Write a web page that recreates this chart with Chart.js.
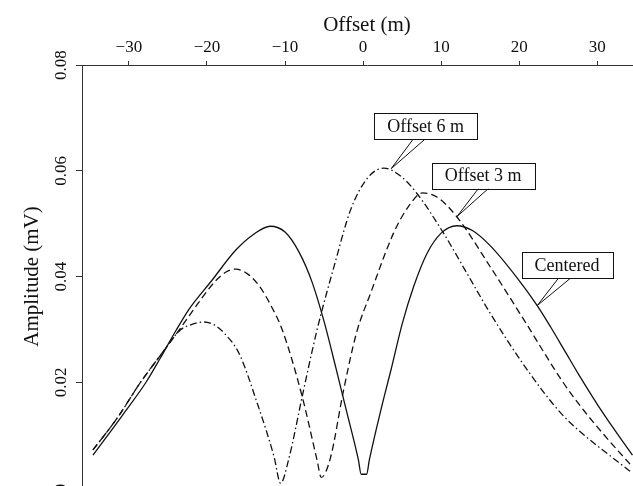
<!DOCTYPE html>
<html>
<head>
<meta charset="utf-8">
<script src="https://cdn.jsdelivr.net/npm/chart.js@4.4.1/dist/chart.umd.min.js"></script>
<style>
html, body { margin: 0; padding: 0; overflow: hidden; background: #fff; width: 633px; height: 486px; }
canvas { display: block; }
</style>
</head>
<body>
<canvas id="ampChart" width="654" height="490"></canvas>
<script>
// tick values and labels
const xTickValues = [-30, -20, -10, 0, 10, 20, 30];
const xTickLabels = ['\u221230', '\u221220', '\u221210', '0', '10', '20', '30'];
const yTickValues = [0, 0.02, 0.04, 0.06, 0.08];
const yTickLabels = ['0', '0.02', '0.04', '0.06', '0.08'];

// Centered (solid)
const centeredX = [-34.6, -30.8, -27.8, -26, -24, -22.3, -19.4, -16.3, -14, -11.9, -10, -8.2, -6.5, -5, -3.5, -2.2, -0.6, -0.25, 0.45, 0.8, 2.4, 3.6, 5, 6.5, 8.2, 10, 12, 14, 16.3, 19.7, 22.3, 24, 26, 27.6, 30.8, 34.5];
const centeredY = [0.0062, 0.0138, 0.0200, 0.0245, 0.0297, 0.0338, 0.0392, 0.0450, 0.0480, 0.0495, 0.0484, 0.0446, 0.0388, 0.0315, 0.0228, 0.0150, 0.0053, 0.0026, 0.0026, 0.0053, 0.0155, 0.0225, 0.0310, 0.0382, 0.0444, 0.0482, 0.0496, 0.0487, 0.0458, 0.0398, 0.0345, 0.0305, 0.0255, 0.0215, 0.0140, 0.0062];

// Offset 3 m (dashed)
const offset3X = [-34.6, -31.5, -28.5, -26, -23.4, -21, -19, -17.5, -16.3, -14.8, -13.3, -11.8, -10.35, -7.8, -5.9, -5.36, -4.2, -2.5, -0.85, 1, 3.9, 5.8, 7.6, 9.5, 12, 16.3, 20.6, 25.6, 28.2, 31.3, 34.5];
const offset3Y = [0.0072, 0.0132, 0.0200, 0.0250, 0.0302, 0.0352, 0.0390, 0.0409, 0.0414, 0.0405, 0.0382, 0.0345, 0.0299, 0.0173, 0.0053, 0.0020, 0.0056, 0.0185, 0.0293, 0.0370, 0.0482, 0.0532, 0.0558, 0.0550, 0.0513, 0.0418, 0.0318, 0.0200, 0.0148, 0.0093, 0.0040];

// Offset 6 m (dash-dot)
const offset6X = [-34.6, -31.5, -28.5, -26, -23.4, -22, -20.4, -19, -17.8, -15.9, -13.55, -11.4, -10.57, -9.5, -7.8, -5.9, -3.7, -1.6, 0.5, 2.65, 4.8, 6.9, 10.3, 13.3, 16.3, 20.8, 25.3, 28, 30.5, 32.5, 34.5];
const offset6Y = [0.0072, 0.0132, 0.0200, 0.0250, 0.0299, 0.0309, 0.0314, 0.0308, 0.0293, 0.0255, 0.0160, 0.0059, 0.0009, 0.0056, 0.0173, 0.0299, 0.0420, 0.0526, 0.0585, 0.0605, 0.0590, 0.0557, 0.0482, 0.0406, 0.0330, 0.0228, 0.0142, 0.0104, 0.0074, 0.0051, 0.0028];

// callout boxes (data units): text, box centre, leader tip, leader base x's
const callouts = [
    {text: 'Offset 6 m', box: [8.0, 0.0685], tip: [3.6, 0.0604], base: [6.45, 7.98]},
    {text: 'Offset 3 m', box: [15.37, 0.0591], tip: [12.0, 0.0513], base: [14.77, 16.05]},
    {text: 'Centered', box: [26.12, 0.0421], tip: [22.3, 0.0345], base: [25.0, 26.53]}
];

const SERIF = '"Liberation Serif", "Times New Roman", serif';
const INK = '#111';

function toPoints(xs, ys) {
    return xs.map((x, i) => ({x: x, y: ys[i]}));
}

const yTickPlugin = {
    id: 'yTickLabels',
    afterDraw(chart) {
        const ctx = chart.ctx;
        const y = chart.scales.y;
        ctx.save();
        ctx.font = '17px ' + SERIF;
        ctx.fillStyle = INK;
        ctx.textAlign = 'center';
        ctx.textBaseline = 'middle';
        yTickValues.forEach((v, i) => {
            ctx.save();
            ctx.translate(y.right - 20, y.getPixelForValue(v));
            ctx.rotate(-Math.PI / 2);
            ctx.fillText(yTickLabels[i], 0, 0);
            ctx.restore();
        });
        ctx.restore();
    }
};

const calloutPlugin = {
    id: 'callouts',
    afterDatasetsDraw(chart) {
        const ctx = chart.ctx;
        const xs = chart.scales.x, ys = chart.scales.y;
        ctx.save();
        ctx.font = '18px ' + SERIF;
        ctx.strokeStyle = INK;
        ctx.lineWidth = 1;
        callouts.forEach((c) => {
            const cx = xs.getPixelForValue(c.box[0]);
            const cy = ys.getPixelForValue(c.box[1]);
            const w = ctx.measureText(c.text).width + 26;
            const h = 26;
            const tx = xs.getPixelForValue(c.tip[0]);
            const ty = ys.getPixelForValue(c.tip[1]);
            ctx.beginPath();
            ctx.moveTo(xs.getPixelForValue(c.base[0]), cy + h / 2);
            ctx.lineTo(tx, ty);
            ctx.lineTo(xs.getPixelForValue(c.base[1]), cy + h / 2);
            ctx.stroke();
            ctx.fillStyle = '#fff';
            ctx.fillRect(cx - w / 2, cy - h / 2, w, h);
            ctx.strokeRect(Math.round(cx - w / 2) + 0.5, Math.round(cy - h / 2) + 0.5, Math.round(w), h);
            ctx.fillStyle = INK;
            ctx.textAlign = 'center';
            ctx.textBaseline = 'middle';
            ctx.fillText(c.text, cx, cy + 1);
        });
        ctx.restore();
    }
};

function lineSet(label, xs, ys, dash) {
    return {
        label: label,
        data: toPoints(xs, ys),
        borderColor: INK,
        borderWidth: 1.3,
        borderDash: dash,
        pointRadius: 0,
        fill: false,
        cubicInterpolationMode: 'monotone'
    };
}

function setupChart() {
    const ctx = document.getElementById('ampChart');
    return new Chart(ctx, {
        type: 'line',
        data: {
            datasets: [
                lineSet('Centered', centeredX, centeredY, []),
                lineSet('Offset 3 m', offset3X, offset3Y, [7, 4]),
                lineSet('Offset 6 m', offset6X, offset6Y, [7, 3, 1.5, 3])
            ]
        },
        options: {
            responsive: false,
            animation: false,
            layout: {padding: {left: 0, top: 0, right: 2, bottom: 2}},
            plugins: {legend: {display: false}, tooltip: {enabled: false}},
            scales: {
                x: {
                    type: 'linear',
                    position: 'top',
                    min: -36,
                    max: 37,
                    afterBuildTicks: (s) => { s.ticks = xTickValues.map((v) => ({value: v})); },
                    afterFit: (s) => { s.height = 65; },
                    grid: {drawOnChartArea: false, tickLength: 4, color: '#333'},
                    border: {color: '#333', width: 1},
                    ticks: {
                        color: INK,
                        padding: 3,
                        maxRotation: 0,
                        font: {family: SERIF, size: 17},
                        callback: (v) => xTickLabels[xTickValues.indexOf(v)]
                    },
                    title: {
                        display: true,
                        text: 'Offset (m)',
                        color: INK,
                        font: {family: SERIF, size: 21},
                        padding: {top: 13, bottom: 0}
                    }
                },
                y: {
                    type: 'linear',
                    position: 'left',
                    min: 0,
                    max: 0.08,
                    afterBuildTicks: (s) => { s.ticks = yTickValues.map((v) => ({value: v})); },
                    afterFit: (s) => { s.width = 82; },
                    grid: {drawOnChartArea: false, tickLength: 6, color: '#333'},
                    border: {color: '#333', width: 1},
                    ticks: {display: false},
                    title: {
                        display: true,
                        text: 'Amplitude (mV)',
                        color: INK,
                        font: {family: SERIF, size: 21},
                        padding: {top: 20, bottom: 0}
                    }
                }
            }
        },
        plugins: [yTickPlugin, calloutPlugin]
    });
}

setupChart();
</script>
</body>
</html>
